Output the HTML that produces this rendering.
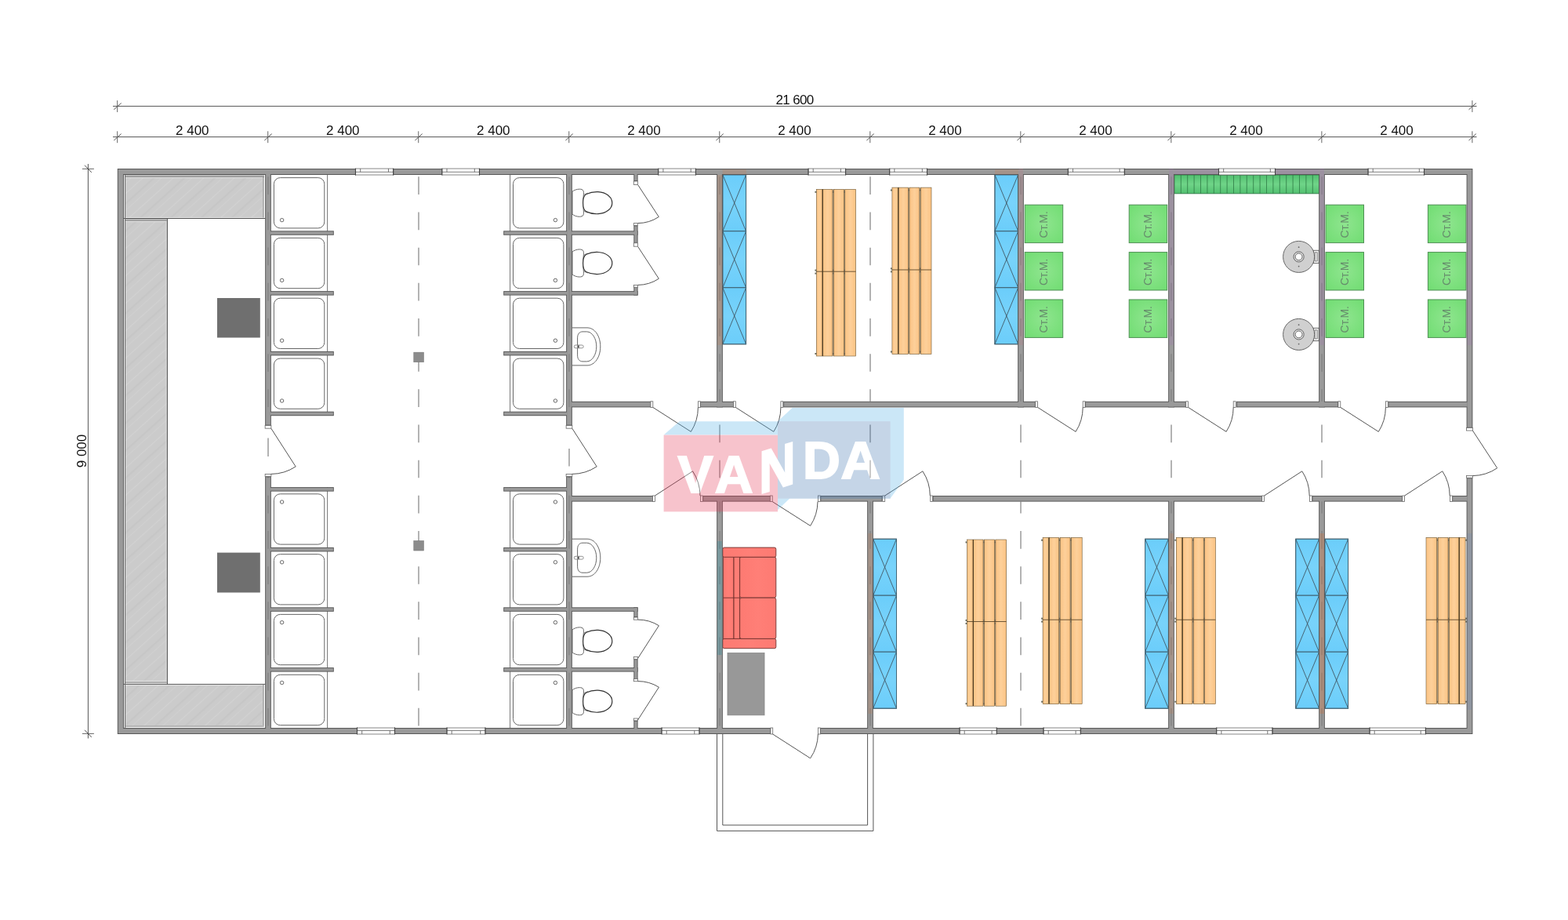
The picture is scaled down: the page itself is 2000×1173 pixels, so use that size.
<!DOCTYPE html>
<html lang="ru">
<head>
<meta charset="utf-8">
<title>План 21 600 x 9 000</title>
<style>
html,body{margin:0;padding:0;background:#fff;}
body{width:2000px;height:1173px;overflow:hidden;}
svg{display:block;}
text{font-family:"Liberation Sans",sans-serif;}
svg{will-change:transform;}
.dim{font-size:17px;fill:#111;}
.wm{font-size:14px;fill:#668c6c;}
.logo text{font-family:"Liberation Sans",sans-serif;font-weight:700;font-size:67.5px;}
</style>
</head>
<body>
<svg width="2000" height="1173" viewBox="0 0 2000 1173">
<defs>
<pattern id="hp" width="26" height="26" patternUnits="userSpaceOnUse" patternTransform="rotate(-42)">
<rect width="26" height="26" fill="#cbcbcb"/>
<rect y="4" width="26" height="1.2" fill="#d2d2d2"/>
<rect y="13" width="26" height="2.2" fill="#c6c6c6"/>
<rect y="20" width="26" height="1" fill="#d0d0d0"/>
</pattern>
<linearGradient id="go" x1="0" x2="1" y1="0" y2="0"><stop offset="0" stop-color="#fbc384"/><stop offset="0.5" stop-color="#fdd09a"/><stop offset="1" stop-color="#fbc384"/></linearGradient>
<linearGradient id="gb" x1="0" x2="0" y1="0" y2="1"><stop offset="0" stop-color="#6bcdfa"/><stop offset="0.5" stop-color="#78d3fb"/><stop offset="1" stop-color="#6bcdfa"/></linearGradient>
<radialGradient id="gg" cx="0.5" cy="0.5" r="0.75"><stop offset="0" stop-color="#8fe58f"/><stop offset="1" stop-color="#6edc70"/></radialGradient>
<linearGradient id="gr" x1="0" x2="1" y1="0" y2="0"><stop offset="0" stop-color="#fd7a72"/><stop offset="0.5" stop-color="#ff7f77"/><stop offset="1" stop-color="#fd7a72"/></linearGradient>
<linearGradient id="gd" x1="0" x2="0" y1="0" y2="1"><stop offset="0" stop-color="#52c070"/><stop offset="0.5" stop-color="#6fd488"/><stop offset="1" stop-color="#52c070"/></linearGradient>
</defs>
<rect width="2000" height="1173" fill="#fff"/>
<g id="dims">
<line x1="144.00" y1="135.40" x2="1883.50" y2="135.40" stroke="#555" stroke-width="1" />
<line x1="144.00" y1="174.60" x2="1883.50" y2="174.60" stroke="#555" stroke-width="1" />
<line x1="149.70" y1="128.10" x2="149.70" y2="143.00" stroke="#666" stroke-width="1" />
<line x1="145.30" y1="139.80" x2="154.60" y2="131.40" stroke="#555" stroke-width="1" />
<line x1="1877.90" y1="128.10" x2="1877.90" y2="143.00" stroke="#666" stroke-width="1" />
<line x1="1873.50" y1="139.80" x2="1882.80" y2="131.40" stroke="#555" stroke-width="1" />
<line x1="149.70" y1="167.30" x2="149.70" y2="182.20" stroke="#666" stroke-width="1" />
<line x1="145.30" y1="179.00" x2="154.60" y2="170.60" stroke="#555" stroke-width="1" />
<line x1="341.72" y1="167.30" x2="341.72" y2="182.20" stroke="#666" stroke-width="1" />
<line x1="337.32" y1="179.00" x2="346.62" y2="170.60" stroke="#555" stroke-width="1" />
<line x1="533.74" y1="167.30" x2="533.74" y2="182.20" stroke="#666" stroke-width="1" />
<line x1="529.34" y1="179.00" x2="538.64" y2="170.60" stroke="#555" stroke-width="1" />
<line x1="725.76" y1="167.30" x2="725.76" y2="182.20" stroke="#666" stroke-width="1" />
<line x1="721.36" y1="179.00" x2="730.66" y2="170.60" stroke="#555" stroke-width="1" />
<line x1="917.78" y1="167.30" x2="917.78" y2="182.20" stroke="#666" stroke-width="1" />
<line x1="913.38" y1="179.00" x2="922.68" y2="170.60" stroke="#555" stroke-width="1" />
<line x1="1109.80" y1="167.30" x2="1109.80" y2="182.20" stroke="#666" stroke-width="1" />
<line x1="1105.40" y1="179.00" x2="1114.70" y2="170.60" stroke="#555" stroke-width="1" />
<line x1="1301.82" y1="167.30" x2="1301.82" y2="182.20" stroke="#666" stroke-width="1" />
<line x1="1297.42" y1="179.00" x2="1306.72" y2="170.60" stroke="#555" stroke-width="1" />
<line x1="1493.84" y1="167.30" x2="1493.84" y2="182.20" stroke="#666" stroke-width="1" />
<line x1="1489.44" y1="179.00" x2="1498.74" y2="170.60" stroke="#555" stroke-width="1" />
<line x1="1685.86" y1="167.30" x2="1685.86" y2="182.20" stroke="#666" stroke-width="1" />
<line x1="1681.46" y1="179.00" x2="1690.76" y2="170.60" stroke="#555" stroke-width="1" />
<line x1="1877.88" y1="167.30" x2="1877.88" y2="182.20" stroke="#666" stroke-width="1" />
<line x1="1873.48" y1="179.00" x2="1882.78" y2="170.60" stroke="#555" stroke-width="1" />
<text class="dim" x="1013.5" y="132.9" text-anchor="middle" word-spacing="0" letter-spacing="-0.7">21 600</text>
<text class="dim" x="245.3" y="172.2" text-anchor="middle">2 400</text>
<text class="dim" x="437.3" y="172.2" text-anchor="middle">2 400</text>
<text class="dim" x="629.3" y="172.2" text-anchor="middle">2 400</text>
<text class="dim" x="821.4" y="172.2" text-anchor="middle">2 400</text>
<text class="dim" x="1013.4" y="172.2" text-anchor="middle">2 400</text>
<text class="dim" x="1205.4" y="172.2" text-anchor="middle">2 400</text>
<text class="dim" x="1397.4" y="172.2" text-anchor="middle">2 400</text>
<text class="dim" x="1589.4" y="172.2" text-anchor="middle">2 400</text>
<text class="dim" x="1781.5" y="172.2" text-anchor="middle">2 400</text>
<line x1="112.40" y1="209.00" x2="112.40" y2="941.50" stroke="#555" stroke-width="1" />
<line x1="104.90" y1="215.30" x2="119.90" y2="215.30" stroke="#666" stroke-width="1" />
<line x1="108.00" y1="210.70" x2="116.80" y2="219.90" stroke="#555" stroke-width="1" />
<line x1="104.90" y1="935.40" x2="119.90" y2="935.40" stroke="#666" stroke-width="1" />
<line x1="108.00" y1="930.80" x2="116.80" y2="940.00" stroke="#555" stroke-width="1" />
<text class="dim" transform="translate(110.1 575) rotate(-90)" text-anchor="middle">9 000</text>
</g>
<g id="axes">
<line x1="534.00" y1="225.30" x2="534.00" y2="248.00" stroke="#8a8a8a" stroke-width="1.3" />
<line x1="534.00" y1="270.47" x2="534.00" y2="293.17" stroke="#8a8a8a" stroke-width="1.3" />
<line x1="534.00" y1="315.64" x2="534.00" y2="338.34" stroke="#8a8a8a" stroke-width="1.3" />
<line x1="534.00" y1="360.81" x2="534.00" y2="383.51" stroke="#8a8a8a" stroke-width="1.3" />
<line x1="534.00" y1="405.98" x2="534.00" y2="428.68" stroke="#8a8a8a" stroke-width="1.3" />
<line x1="534.00" y1="451.15" x2="534.00" y2="473.85" stroke="#8a8a8a" stroke-width="1.3" />
<line x1="534.00" y1="496.32" x2="534.00" y2="519.02" stroke="#8a8a8a" stroke-width="1.3" />
<line x1="534.00" y1="541.49" x2="534.00" y2="564.19" stroke="#8a8a8a" stroke-width="1.3" />
<line x1="534.00" y1="586.66" x2="534.00" y2="609.36" stroke="#8a8a8a" stroke-width="1.3" />
<line x1="534.00" y1="631.83" x2="534.00" y2="654.53" stroke="#8a8a8a" stroke-width="1.3" />
<line x1="534.00" y1="677.00" x2="534.00" y2="699.70" stroke="#8a8a8a" stroke-width="1.3" />
<line x1="534.00" y1="722.17" x2="534.00" y2="744.87" stroke="#8a8a8a" stroke-width="1.3" />
<line x1="534.00" y1="767.34" x2="534.00" y2="790.04" stroke="#8a8a8a" stroke-width="1.3" />
<line x1="534.00" y1="812.51" x2="534.00" y2="835.21" stroke="#8a8a8a" stroke-width="1.3" />
<line x1="534.00" y1="857.68" x2="534.00" y2="880.38" stroke="#8a8a8a" stroke-width="1.3" />
<line x1="534.00" y1="902.85" x2="534.00" y2="925.55" stroke="#8a8a8a" stroke-width="1.3" />
<line x1="1110.00" y1="225.30" x2="1110.00" y2="248.00" stroke="#8a8a8a" stroke-width="1.3" />
<line x1="1110.00" y1="270.47" x2="1110.00" y2="293.17" stroke="#8a8a8a" stroke-width="1.3" />
<line x1="1110.00" y1="315.64" x2="1110.00" y2="338.34" stroke="#8a8a8a" stroke-width="1.3" />
<line x1="1110.00" y1="360.81" x2="1110.00" y2="383.51" stroke="#8a8a8a" stroke-width="1.3" />
<line x1="1110.00" y1="405.98" x2="1110.00" y2="428.68" stroke="#8a8a8a" stroke-width="1.3" />
<line x1="1110.00" y1="451.15" x2="1110.00" y2="473.85" stroke="#8a8a8a" stroke-width="1.3" />
<line x1="1110.00" y1="496.32" x2="1110.00" y2="511.80" stroke="#8a8a8a" stroke-width="1.3" />
<line x1="1110.00" y1="541.49" x2="1110.00" y2="564.19" stroke="#8a8a8a" stroke-width="1.3" />
<line x1="1110.00" y1="586.66" x2="1110.00" y2="609.36" stroke="#8a8a8a" stroke-width="1.3" />
<line x1="1302.00" y1="541.49" x2="1302.00" y2="564.19" stroke="#8a8a8a" stroke-width="1.3" />
<line x1="1302.00" y1="586.66" x2="1302.00" y2="609.36" stroke="#8a8a8a" stroke-width="1.3" />
<line x1="1302.00" y1="639.60" x2="1302.00" y2="654.53" stroke="#8a8a8a" stroke-width="1.3" />
<line x1="1302.00" y1="677.00" x2="1302.00" y2="699.70" stroke="#8a8a8a" stroke-width="1.3" />
<line x1="1302.00" y1="722.17" x2="1302.00" y2="744.87" stroke="#8a8a8a" stroke-width="1.3" />
<line x1="1302.00" y1="767.34" x2="1302.00" y2="790.04" stroke="#8a8a8a" stroke-width="1.3" />
<line x1="1302.00" y1="812.51" x2="1302.00" y2="835.21" stroke="#8a8a8a" stroke-width="1.3" />
<line x1="1302.00" y1="857.68" x2="1302.00" y2="880.38" stroke="#8a8a8a" stroke-width="1.3" />
<line x1="1302.00" y1="902.85" x2="1302.00" y2="925.55" stroke="#8a8a8a" stroke-width="1.3" />
<line x1="918.00" y1="541.49" x2="918.00" y2="564.19" stroke="#8a8a8a" stroke-width="1.3" />
<line x1="918.00" y1="586.66" x2="918.00" y2="609.36" stroke="#8a8a8a" stroke-width="1.3" />
<line x1="1494.00" y1="541.49" x2="1494.00" y2="564.19" stroke="#8a8a8a" stroke-width="1.3" />
<line x1="1494.00" y1="586.66" x2="1494.00" y2="609.36" stroke="#8a8a8a" stroke-width="1.3" />
<line x1="1686.00" y1="541.49" x2="1686.00" y2="564.19" stroke="#8a8a8a" stroke-width="1.3" />
<line x1="1686.00" y1="586.66" x2="1686.00" y2="609.36" stroke="#8a8a8a" stroke-width="1.3" />
<line x1="342.00" y1="558.60" x2="342.00" y2="582.10" stroke="#8a8a8a" stroke-width="1.3" />
<line x1="726.00" y1="571.90" x2="726.00" y2="594.40" stroke="#8a8a8a" stroke-width="1.3" />
</g>
<g id="hatch">
<rect x="160.00" y="226.00" width="175.00" height="51.60" fill="url(#hp)" />
<rect x="160.00" y="282.00" width="52.80" height="586.60" fill="url(#hp)" />
<rect x="160.00" y="873.00" width="175.00" height="52.40" fill="url(#hp)" />
<rect x="160.00" y="223.00" width="177.00" height="1.90" fill="#b8b8b8" />
<rect x="335.00" y="224.90" width="1.80" height="52.70" fill="#ababab" />
<rect x="160.00" y="279.00" width="52.80" height="1.80" fill="#b5b5b5" />
<rect x="160.00" y="869.00" width="52.80" height="1.90" fill="#a8a8a8" />
<rect x="160.00" y="925.20" width="176.80" height="1.60" fill="#a5a5a5" />
<rect x="335.00" y="873.00" width="1.80" height="52.20" fill="#ababab" />
<line x1="160.00" y1="226.50" x2="335.00" y2="226.50" stroke="#e2e2e2" stroke-width="1" />
<line x1="160.00" y1="277.40" x2="335.00" y2="277.40" stroke="#e2e2e2" stroke-width="1" />
<line x1="160.00" y1="282.50" x2="212.80" y2="282.50" stroke="#e2e2e2" stroke-width="1" />
<line x1="160.00" y1="868.40" x2="212.80" y2="868.40" stroke="#e2e2e2" stroke-width="1" />
<line x1="160.00" y1="871.40" x2="212.80" y2="871.40" stroke="#e2e2e2" stroke-width="1" />
<line x1="160.00" y1="873.50" x2="335.00" y2="873.50" stroke="#e2e2e2" stroke-width="1" />
<line x1="211.40" y1="283.00" x2="211.40" y2="868.00" stroke="#d8d8d8" stroke-width="0.8" />
<line x1="160.00" y1="225.40" x2="337.00" y2="225.40" stroke="#7a7a7a" stroke-width="1.0" />
<line x1="158.00" y1="278.50" x2="338.40" y2="278.50" stroke="#555" stroke-width="1.0" />
<line x1="160.00" y1="281.30" x2="212.80" y2="281.30" stroke="#6c6c6c" stroke-width="0.9" />
<line x1="158.00" y1="872.40" x2="338.40" y2="872.40" stroke="#585858" stroke-width="1.0" />
<line x1="159.50" y1="223.00" x2="159.50" y2="928.00" stroke="#6a6a6a" stroke-width="1.0" />
<line x1="213.40" y1="278.50" x2="213.40" y2="872.40" stroke="#555" stroke-width="1.1" />
</g>
<rect x="277.00" y="380.00" width="54.80" height="50.50" fill="#6f6f6f" />
<rect x="277.00" y="704.60" width="54.80" height="50.90" fill="#6f6f6f" />
<rect x="527.80" y="449.20" width="12.60" height="12.50" fill="#8c8c8c" stroke="#777" stroke-width="0.6" />
<rect x="527.80" y="689.50" width="12.60" height="12.50" fill="#8c8c8c" stroke="#777" stroke-width="0.6" />
<g id="showers" fill="#fff" stroke="#666" stroke-width="1">
<line x1="417.60" y1="223.00" x2="417.60" y2="530.00" stroke="#666" stroke-width="0.9" />
<line x1="417.60" y1="621.20" x2="417.60" y2="928.00" stroke="#666" stroke-width="0.9" />
<line x1="650.60" y1="223.00" x2="650.60" y2="530.00" stroke="#666" stroke-width="0.9" />
<line x1="650.60" y1="621.20" x2="650.60" y2="928.00" stroke="#666" stroke-width="0.9" />
<rect x="349.4" y="226.6" width="64.4" height="64.3" rx="8" ry="8"/>
<circle cx="359.6" cy="280.6" r="2.2"/>
<rect x="654.5" y="226.6" width="64.4" height="64.3" rx="8" ry="8"/>
<circle cx="708.4" cy="280.6" r="2.2"/>
<rect x="349.4" y="303.4" width="64.4" height="64.3" rx="8" ry="8"/>
<circle cx="359.6" cy="357.4" r="2.2"/>
<rect x="654.5" y="303.4" width="64.4" height="64.3" rx="8" ry="8"/>
<circle cx="708.4" cy="357.4" r="2.2"/>
<rect x="349.4" y="380.2" width="64.4" height="64.3" rx="8" ry="8"/>
<circle cx="359.6" cy="434.2" r="2.2"/>
<rect x="654.5" y="380.2" width="64.4" height="64.3" rx="8" ry="8"/>
<circle cx="708.4" cy="434.2" r="2.2"/>
<rect x="349.4" y="457.0" width="64.4" height="64.3" rx="8" ry="8"/>
<circle cx="359.6" cy="511.0" r="2.2"/>
<rect x="654.5" y="457.0" width="64.4" height="64.3" rx="8" ry="8"/>
<circle cx="708.4" cy="511.0" r="2.2"/>
<rect x="349.4" y="629.8" width="64.4" height="64.3" rx="8" ry="8"/>
<circle cx="359.6" cy="640.0" r="2.2"/>
<rect x="654.5" y="629.8" width="64.4" height="64.3" rx="8" ry="8"/>
<circle cx="708.4" cy="640.0" r="2.2"/>
<rect x="349.4" y="706.6" width="64.4" height="64.3" rx="8" ry="8"/>
<circle cx="359.6" cy="716.8" r="2.2"/>
<rect x="654.5" y="706.6" width="64.4" height="64.3" rx="8" ry="8"/>
<circle cx="708.4" cy="716.8" r="2.2"/>
<rect x="349.4" y="783.4" width="64.4" height="64.3" rx="8" ry="8"/>
<circle cx="359.6" cy="793.6" r="2.2"/>
<rect x="654.5" y="783.4" width="64.4" height="64.3" rx="8" ry="8"/>
<circle cx="708.4" cy="793.6" r="2.2"/>
<rect x="349.4" y="860.3" width="64.4" height="64.3" rx="8" ry="8"/>
<circle cx="359.6" cy="870.5" r="2.2"/>
<rect x="654.5" y="860.3" width="64.4" height="64.3" rx="8" ry="8"/>
<circle cx="708.4" cy="870.5" r="2.2"/>
</g>
<g transform="translate(730 258.7)" fill="#fff">
<path d="M0 -14.5 C4 -17.5 9 -18 12 -17.2 C14.4 -16.4 14.6 -14 14.4 -11 C13.6 -4 13.6 4 14.4 11 C14.6 14 14.4 16.4 12 17.2 C9 18 4 17.5 0 14.5 Z" stroke="#666" stroke-width="1"/>
<path d="M14.5 -10.5 L20 -12.6 M14.5 10.5 L20 12.6 M14.8 -8.6 L19 -10.4 M14.8 8.6 L19 10.4" stroke="#777" stroke-width="0.8" fill="none"/>
<path d="M13.6 0 C13.6 -6 14.5 -9.5 18 -11.2 C23 -13.6 29 -14.2 33 -14 C43 -13.4 50.8 -7.6 50.8 0 C50.8 7.6 43 13.4 33 14 C29 14.2 23 13.6 18 11.2 C14.5 9.5 13.6 6 13.6 0 Z" stroke="#333" stroke-width="1.2"/>
</g>
<g transform="translate(730 335.5)" fill="#fff">
<path d="M0 -14.5 C4 -17.5 9 -18 12 -17.2 C14.4 -16.4 14.6 -14 14.4 -11 C13.6 -4 13.6 4 14.4 11 C14.6 14 14.4 16.4 12 17.2 C9 18 4 17.5 0 14.5 Z" stroke="#666" stroke-width="1"/>
<path d="M14.5 -10.5 L20 -12.6 M14.5 10.5 L20 12.6 M14.8 -8.6 L19 -10.4 M14.8 8.6 L19 10.4" stroke="#777" stroke-width="0.8" fill="none"/>
<path d="M13.6 0 C13.6 -6 14.5 -9.5 18 -11.2 C23 -13.6 29 -14.2 33 -14 C43 -13.4 50.8 -7.6 50.8 0 C50.8 7.6 43 13.4 33 14 C29 14.2 23 13.6 18 11.2 C14.5 9.5 13.6 6 13.6 0 Z" stroke="#333" stroke-width="1.2"/>
</g>
<g transform="translate(730 817.4)" fill="#fff">
<path d="M0 -14.5 C4 -17.5 9 -18 12 -17.2 C14.4 -16.4 14.6 -14 14.4 -11 C13.6 -4 13.6 4 14.4 11 C14.6 14 14.4 16.4 12 17.2 C9 18 4 17.5 0 14.5 Z" stroke="#666" stroke-width="1"/>
<path d="M14.5 -10.5 L20 -12.6 M14.5 10.5 L20 12.6 M14.8 -8.6 L19 -10.4 M14.8 8.6 L19 10.4" stroke="#777" stroke-width="0.8" fill="none"/>
<path d="M13.6 0 C13.6 -6 14.5 -9.5 18 -11.2 C23 -13.6 29 -14.2 33 -14 C43 -13.4 50.8 -7.6 50.8 0 C50.8 7.6 43 13.4 33 14 C29 14.2 23 13.6 18 11.2 C14.5 9.5 13.6 6 13.6 0 Z" stroke="#333" stroke-width="1.2"/>
</g>
<g transform="translate(730 894.2)" fill="#fff">
<path d="M0 -14.5 C4 -17.5 9 -18 12 -17.2 C14.4 -16.4 14.6 -14 14.4 -11 C13.6 -4 13.6 4 14.4 11 C14.6 14 14.4 16.4 12 17.2 C9 18 4 17.5 0 14.5 Z" stroke="#666" stroke-width="1"/>
<path d="M14.5 -10.5 L20 -12.6 M14.5 10.5 L20 12.6 M14.8 -8.6 L19 -10.4 M14.8 8.6 L19 10.4" stroke="#777" stroke-width="0.8" fill="none"/>
<path d="M13.6 0 C13.6 -6 14.5 -9.5 18 -11.2 C23 -13.6 29 -14.2 33 -14 C43 -13.4 50.8 -7.6 50.8 0 C50.8 7.6 43 13.4 33 14 C29 14.2 23 13.6 18 11.2 C14.5 9.5 13.6 6 13.6 0 Z" stroke="#333" stroke-width="1.2"/>
</g>
<g transform="translate(730 441.9)" fill="#fff" stroke="#666" stroke-width="1">
<path d="M0 -24 H19 C29 -24 35.8 -13 35.8 0 C35.8 13 29 24 19 24 H0"/>
<path d="M13 -19 H18.5 C25.5 -19 30.8 -10 30.8 0 C30.8 10 25.5 19 18.5 19 H13 C9 19 6.6 16 6.6 11 V-11 C6.6 -16 9 -19 13 -19 Z"/>
<rect x="2.2" y="-1.9" width="12" height="3.8" rx="1.9" stroke="#777" stroke-width="0.8"/>
<rect x="6.4" y="-1.6" width="2.4" height="3.2" fill="#555" stroke="none"/>
</g>
<g transform="translate(730 711.2)" fill="#fff" stroke="#666" stroke-width="1">
<path d="M0 -24 H19 C29 -24 35.8 -13 35.8 0 C35.8 13 29 24 19 24 H0"/>
<path d="M13 -19 H18.5 C25.5 -19 30.8 -10 30.8 0 C30.8 10 25.5 19 18.5 19 H13 C9 19 6.6 16 6.6 11 V-11 C6.6 -16 9 -19 13 -19 Z"/>
<rect x="2.2" y="-1.9" width="12" height="3.8" rx="1.9" stroke="#777" stroke-width="0.8"/>
<rect x="6.4" y="-1.6" width="2.4" height="3.2" fill="#555" stroke="none"/>
</g>
<g transform="translate(921.8 222.8)" stroke="#3a5766" stroke-width="0.9" fill="url(#gb)">
<rect x="0" y="0.0" width="29.8" height="72.0"/>
<path d="M0 0.0 L29.8 72.0 M29.8 0.0 L0 72.0" fill="none" stroke="#3b4a54" stroke-width="0.8"/>
<rect x="0" y="72.0" width="29.8" height="72.0"/>
<path d="M0 72.0 L29.8 144.0 M29.8 72.0 L0 144.0" fill="none" stroke="#3b4a54" stroke-width="0.8"/>
<rect x="0" y="144.0" width="29.8" height="72.0"/>
<path d="M0 144.0 L29.8 216.0 M29.8 144.0 L0 216.0" fill="none" stroke="#3b4a54" stroke-width="0.8"/>
<rect x="0" y="0" width="29.8" height="216.0" fill="none" stroke="#456878" stroke-width="0.9"/>
</g>
<g transform="translate(1268.9 222.8)" stroke="#3a5766" stroke-width="0.9" fill="url(#gb)">
<rect x="0" y="0.0" width="29.8" height="72.0"/>
<path d="M0 0.0 L29.8 72.0 M29.8 0.0 L0 72.0" fill="none" stroke="#3b4a54" stroke-width="0.8"/>
<rect x="0" y="72.0" width="29.8" height="72.0"/>
<path d="M0 72.0 L29.8 144.0 M29.8 72.0 L0 144.0" fill="none" stroke="#3b4a54" stroke-width="0.8"/>
<rect x="0" y="144.0" width="29.8" height="72.0"/>
<path d="M0 144.0 L29.8 216.0 M29.8 144.0 L0 216.0" fill="none" stroke="#3b4a54" stroke-width="0.8"/>
<rect x="0" y="0" width="29.8" height="216.0" fill="none" stroke="#456878" stroke-width="0.9"/>
</g>
<g transform="translate(1113.7 687.2)" stroke="#3a5766" stroke-width="0.9" fill="url(#gb)">
<rect x="0" y="0.0" width="29.8" height="72.0"/>
<path d="M0 0.0 L29.8 72.0 M29.8 0.0 L0 72.0" fill="none" stroke="#3b4a54" stroke-width="0.8"/>
<rect x="0" y="72.0" width="29.8" height="72.0"/>
<path d="M0 72.0 L29.8 144.0 M29.8 72.0 L0 144.0" fill="none" stroke="#3b4a54" stroke-width="0.8"/>
<rect x="0" y="144.0" width="29.8" height="72.0"/>
<path d="M0 144.0 L29.8 216.0 M29.8 144.0 L0 216.0" fill="none" stroke="#3b4a54" stroke-width="0.8"/>
<rect x="0" y="0" width="29.8" height="216.0" fill="none" stroke="#456878" stroke-width="0.9"/>
</g>
<g transform="translate(1460.6 687.2)" stroke="#3a5766" stroke-width="0.9" fill="url(#gb)">
<rect x="0" y="0.0" width="29.8" height="72.0"/>
<path d="M0 0.0 L29.8 72.0 M29.8 0.0 L0 72.0" fill="none" stroke="#3b4a54" stroke-width="0.8"/>
<rect x="0" y="72.0" width="29.8" height="72.0"/>
<path d="M0 72.0 L29.8 144.0 M29.8 72.0 L0 144.0" fill="none" stroke="#3b4a54" stroke-width="0.8"/>
<rect x="0" y="144.0" width="29.8" height="72.0"/>
<path d="M0 144.0 L29.8 216.0 M29.8 144.0 L0 216.0" fill="none" stroke="#3b4a54" stroke-width="0.8"/>
<rect x="0" y="0" width="29.8" height="216.0" fill="none" stroke="#456878" stroke-width="0.9"/>
</g>
<g transform="translate(1652.7 687.2)" stroke="#3a5766" stroke-width="0.9" fill="url(#gb)">
<rect x="0" y="0.0" width="29.8" height="72.0"/>
<path d="M0 0.0 L29.8 72.0 M29.8 0.0 L0 72.0" fill="none" stroke="#3b4a54" stroke-width="0.8"/>
<rect x="0" y="72.0" width="29.8" height="72.0"/>
<path d="M0 72.0 L29.8 144.0 M29.8 72.0 L0 144.0" fill="none" stroke="#3b4a54" stroke-width="0.8"/>
<rect x="0" y="144.0" width="29.8" height="72.0"/>
<path d="M0 144.0 L29.8 216.0 M29.8 144.0 L0 216.0" fill="none" stroke="#3b4a54" stroke-width="0.8"/>
<rect x="0" y="0" width="29.8" height="216.0" fill="none" stroke="#456878" stroke-width="0.9"/>
</g>
<g transform="translate(1689.8 687.2)" stroke="#3a5766" stroke-width="0.9" fill="url(#gb)">
<rect x="0" y="0.0" width="29.8" height="72.0"/>
<path d="M0 0.0 L29.8 72.0 M29.8 0.0 L0 72.0" fill="none" stroke="#3b4a54" stroke-width="0.8"/>
<rect x="0" y="72.0" width="29.8" height="72.0"/>
<path d="M0 72.0 L29.8 144.0 M29.8 72.0 L0 144.0" fill="none" stroke="#3b4a54" stroke-width="0.8"/>
<rect x="0" y="144.0" width="29.8" height="72.0"/>
<path d="M0 144.0 L29.8 216.0 M29.8 144.0 L0 216.0" fill="none" stroke="#3b4a54" stroke-width="0.8"/>
<rect x="0" y="0" width="29.8" height="216.0" fill="none" stroke="#456878" stroke-width="0.9"/>
</g>
<g transform="translate(1041.4 241.4)">
<rect x="0.3" y="0.3" width="49.5" height="212.0" fill="#ab9c84"/>
<rect x="0" y="0" width="7.5" height="212.6" fill="url(#go)" stroke="#6f5a38" stroke-width="0.6"/>
<rect x="8.2" y="0" width="12.3" height="212.6" fill="url(#go)" stroke="#6f5a38" stroke-width="0.6"/>
<rect x="22.1" y="0" width="12.8" height="212.6" fill="url(#go)" stroke="#6f5a38" stroke-width="0.6"/>
<rect x="36.4" y="0" width="13.7" height="212.6" fill="url(#go)" stroke="#6f5a38" stroke-width="0.6"/>
<line x1="7.9" y1="0" x2="7.9" y2="212.6" stroke="#3e3018" stroke-width="0.9"/>
<line x1="-0.5" y1="104.8" x2="50.1" y2="104.8" stroke="#4a3a20" stroke-width="0.8"/>
<rect x="-2.0" y="2.4" width="2.0" height="2.0" fill="#6a6a5a"/>
<rect x="20.8" y="2.5" width="1.2" height="1.8" fill="#6a6050"/>
<rect x="35.1" y="2.5" width="1.2" height="1.8" fill="#6a6050"/>
<rect x="-2.0" y="102.2" width="2.0" height="2.0" fill="#6a6a5a"/>
<rect x="20.8" y="102.3" width="1.2" height="1.8" fill="#6a6050"/>
<rect x="35.1" y="102.3" width="1.2" height="1.8" fill="#6a6050"/>
<rect x="-2.0" y="106.2" width="2.0" height="2.0" fill="#6a6a5a"/>
<rect x="20.8" y="106.3" width="1.2" height="1.8" fill="#6a6050"/>
<rect x="35.1" y="106.3" width="1.2" height="1.8" fill="#6a6050"/>
<rect x="-2.0" y="208.6" width="2.0" height="2.0" fill="#6a6a5a"/>
<rect x="20.8" y="208.7" width="1.2" height="1.8" fill="#6a6050"/>
<rect x="35.1" y="208.7" width="1.2" height="1.8" fill="#6a6050"/>
</g>
<g transform="translate(1137.9 239.1)">
<rect x="0.3" y="0.3" width="49.5" height="211.8" fill="#ab9c84"/>
<rect x="0" y="0" width="7.5" height="212.4" fill="url(#go)" stroke="#6f5a38" stroke-width="0.6"/>
<rect x="8.2" y="0" width="12.3" height="212.4" fill="url(#go)" stroke="#6f5a38" stroke-width="0.6"/>
<rect x="22.1" y="0" width="12.8" height="212.4" fill="url(#go)" stroke="#6f5a38" stroke-width="0.6"/>
<rect x="36.4" y="0" width="13.7" height="212.4" fill="url(#go)" stroke="#6f5a38" stroke-width="0.6"/>
<line x1="7.9" y1="0" x2="7.9" y2="212.4" stroke="#3e3018" stroke-width="0.9"/>
<line x1="-0.5" y1="104.9" x2="50.1" y2="104.9" stroke="#4a3a20" stroke-width="0.8"/>
<rect x="-2.0" y="2.4" width="2.0" height="2.0" fill="#6a6a5a"/>
<rect x="20.8" y="2.5" width="1.2" height="1.8" fill="#6a6050"/>
<rect x="35.1" y="2.5" width="1.2" height="1.8" fill="#6a6050"/>
<rect x="-2.0" y="102.3" width="2.0" height="2.0" fill="#6a6a5a"/>
<rect x="20.8" y="102.4" width="1.2" height="1.8" fill="#6a6050"/>
<rect x="35.1" y="102.4" width="1.2" height="1.8" fill="#6a6050"/>
<rect x="-2.0" y="106.3" width="2.0" height="2.0" fill="#6a6a5a"/>
<rect x="20.8" y="106.4" width="1.2" height="1.8" fill="#6a6050"/>
<rect x="35.1" y="106.4" width="1.2" height="1.8" fill="#6a6050"/>
<rect x="-2.0" y="208.4" width="2.0" height="2.0" fill="#6a6a5a"/>
<rect x="20.8" y="208.5" width="1.2" height="1.8" fill="#6a6050"/>
<rect x="35.1" y="208.5" width="1.2" height="1.8" fill="#6a6050"/>
</g>
<g transform="translate(1233.5 688.0)">
<rect x="0.3" y="0.3" width="49.5" height="211.6" fill="#ab9c84"/>
<rect x="0" y="0" width="7.5" height="212.2" fill="url(#go)" stroke="#6f5a38" stroke-width="0.6"/>
<rect x="8.2" y="0" width="12.3" height="212.2" fill="url(#go)" stroke="#6f5a38" stroke-width="0.6"/>
<rect x="22.1" y="0" width="12.8" height="212.2" fill="url(#go)" stroke="#6f5a38" stroke-width="0.6"/>
<rect x="36.4" y="0" width="13.7" height="212.2" fill="url(#go)" stroke="#6f5a38" stroke-width="0.6"/>
<line x1="7.9" y1="0" x2="7.9" y2="212.2" stroke="#3e3018" stroke-width="0.9"/>
<line x1="-0.5" y1="104.5" x2="50.1" y2="104.5" stroke="#4a3a20" stroke-width="0.8"/>
<rect x="-2.0" y="2.4" width="2.0" height="2.0" fill="#6a6a5a"/>
<rect x="20.8" y="2.5" width="1.2" height="1.8" fill="#6a6050"/>
<rect x="35.1" y="2.5" width="1.2" height="1.8" fill="#6a6050"/>
<rect x="-2.0" y="101.9" width="2.0" height="2.0" fill="#6a6a5a"/>
<rect x="20.8" y="102.0" width="1.2" height="1.8" fill="#6a6050"/>
<rect x="35.1" y="102.0" width="1.2" height="1.8" fill="#6a6050"/>
<rect x="-2.0" y="105.9" width="2.0" height="2.0" fill="#6a6a5a"/>
<rect x="20.8" y="106.0" width="1.2" height="1.8" fill="#6a6050"/>
<rect x="35.1" y="106.0" width="1.2" height="1.8" fill="#6a6050"/>
<rect x="-2.0" y="208.2" width="2.0" height="2.0" fill="#6a6a5a"/>
<rect x="20.8" y="208.3" width="1.2" height="1.8" fill="#6a6050"/>
<rect x="35.1" y="208.3" width="1.2" height="1.8" fill="#6a6050"/>
</g>
<g transform="translate(1330.1 685.3)">
<rect x="0.3" y="0.3" width="49.5" height="211.8" fill="#ab9c84"/>
<rect x="0" y="0" width="7.5" height="212.4" fill="url(#go)" stroke="#6f5a38" stroke-width="0.6"/>
<rect x="8.2" y="0" width="12.3" height="212.4" fill="url(#go)" stroke="#6f5a38" stroke-width="0.6"/>
<rect x="22.1" y="0" width="12.8" height="212.4" fill="url(#go)" stroke="#6f5a38" stroke-width="0.6"/>
<rect x="36.4" y="0" width="13.7" height="212.4" fill="url(#go)" stroke="#6f5a38" stroke-width="0.6"/>
<line x1="7.9" y1="0" x2="7.9" y2="212.4" stroke="#3e3018" stroke-width="0.9"/>
<line x1="-0.5" y1="104.9" x2="50.1" y2="104.9" stroke="#4a3a20" stroke-width="0.8"/>
<rect x="-2.0" y="2.4" width="2.0" height="2.0" fill="#6a6a5a"/>
<rect x="20.8" y="2.5" width="1.2" height="1.8" fill="#6a6050"/>
<rect x="35.1" y="2.5" width="1.2" height="1.8" fill="#6a6050"/>
<rect x="-2.0" y="102.3" width="2.0" height="2.0" fill="#6a6a5a"/>
<rect x="20.8" y="102.4" width="1.2" height="1.8" fill="#6a6050"/>
<rect x="35.1" y="102.4" width="1.2" height="1.8" fill="#6a6050"/>
<rect x="-2.0" y="106.3" width="2.0" height="2.0" fill="#6a6a5a"/>
<rect x="20.8" y="106.4" width="1.2" height="1.8" fill="#6a6050"/>
<rect x="35.1" y="106.4" width="1.2" height="1.8" fill="#6a6050"/>
<rect x="-2.0" y="208.4" width="2.0" height="2.0" fill="#6a6a5a"/>
<rect x="20.8" y="208.5" width="1.2" height="1.8" fill="#6a6050"/>
<rect x="35.1" y="208.5" width="1.2" height="1.8" fill="#6a6050"/>
</g>
<g transform="translate(1500.3 685.3)">
<rect x="0.3" y="0.3" width="49.5" height="211.8" fill="#ab9c84"/>
<rect x="0" y="0" width="7.5" height="212.4" fill="url(#go)" stroke="#6f5a38" stroke-width="0.6"/>
<rect x="8.2" y="0" width="12.3" height="212.4" fill="url(#go)" stroke="#6f5a38" stroke-width="0.6"/>
<rect x="22.1" y="0" width="12.8" height="212.4" fill="url(#go)" stroke="#6f5a38" stroke-width="0.6"/>
<rect x="36.4" y="0" width="13.7" height="212.4" fill="url(#go)" stroke="#6f5a38" stroke-width="0.6"/>
<line x1="7.9" y1="0" x2="7.9" y2="212.4" stroke="#3e3018" stroke-width="0.9"/>
<line x1="-0.5" y1="104.9" x2="50.1" y2="104.9" stroke="#4a3a20" stroke-width="0.8"/>
<rect x="-2.0" y="2.4" width="2.0" height="2.0" fill="#6a6a5a"/>
<rect x="20.8" y="2.5" width="1.2" height="1.8" fill="#6a6050"/>
<rect x="35.1" y="2.5" width="1.2" height="1.8" fill="#6a6050"/>
<rect x="-2.0" y="102.3" width="2.0" height="2.0" fill="#6a6a5a"/>
<rect x="20.8" y="102.4" width="1.2" height="1.8" fill="#6a6050"/>
<rect x="35.1" y="102.4" width="1.2" height="1.8" fill="#6a6050"/>
<rect x="-2.0" y="106.3" width="2.0" height="2.0" fill="#6a6a5a"/>
<rect x="20.8" y="106.4" width="1.2" height="1.8" fill="#6a6050"/>
<rect x="35.1" y="106.4" width="1.2" height="1.8" fill="#6a6050"/>
<rect x="-2.0" y="208.4" width="2.0" height="2.0" fill="#6a6a5a"/>
<rect x="20.8" y="208.5" width="1.2" height="1.8" fill="#6a6050"/>
<rect x="35.1" y="208.5" width="1.2" height="1.8" fill="#6a6050"/>
</g>
<g transform="translate(1869.1 685.3) scale(-1 1)">
<rect x="0.3" y="0.3" width="49.5" height="211.8" fill="#ab9c84"/>
<rect x="0" y="0" width="7.5" height="212.4" fill="url(#go)" stroke="#6f5a38" stroke-width="0.6"/>
<rect x="8.2" y="0" width="12.3" height="212.4" fill="url(#go)" stroke="#6f5a38" stroke-width="0.6"/>
<rect x="22.1" y="0" width="12.8" height="212.4" fill="url(#go)" stroke="#6f5a38" stroke-width="0.6"/>
<rect x="36.4" y="0" width="13.7" height="212.4" fill="url(#go)" stroke="#6f5a38" stroke-width="0.6"/>
<line x1="7.9" y1="0" x2="7.9" y2="212.4" stroke="#3e3018" stroke-width="0.9"/>
<line x1="-0.5" y1="104.9" x2="50.1" y2="104.9" stroke="#4a3a20" stroke-width="0.8"/>
<rect x="-2.0" y="2.4" width="2.0" height="2.0" fill="#6a6a5a"/>
<rect x="20.8" y="2.5" width="1.2" height="1.8" fill="#6a6050"/>
<rect x="35.1" y="2.5" width="1.2" height="1.8" fill="#6a6050"/>
<rect x="-2.0" y="102.3" width="2.0" height="2.0" fill="#6a6a5a"/>
<rect x="20.8" y="102.4" width="1.2" height="1.8" fill="#6a6050"/>
<rect x="35.1" y="102.4" width="1.2" height="1.8" fill="#6a6050"/>
<rect x="-2.0" y="106.3" width="2.0" height="2.0" fill="#6a6a5a"/>
<rect x="20.8" y="106.4" width="1.2" height="1.8" fill="#6a6050"/>
<rect x="35.1" y="106.4" width="1.2" height="1.8" fill="#6a6050"/>
<rect x="-2.0" y="208.4" width="2.0" height="2.0" fill="#6a6a5a"/>
<rect x="20.8" y="208.5" width="1.2" height="1.8" fill="#6a6050"/>
<rect x="35.1" y="208.5" width="1.2" height="1.8" fill="#6a6050"/>
</g>
<g transform="translate(1307.2 261.2)">
<rect x="0" y="0" width="48.5" height="48.4" fill="url(#gg)" stroke="#4f8f55" stroke-width="1"/>
<text class="wm" transform="translate(28.5 25.2) rotate(-90)" text-anchor="middle">Ст.М.</text>
</g>
<g transform="translate(1307.2 321.6)">
<rect x="0" y="0" width="48.5" height="48.4" fill="url(#gg)" stroke="#4f8f55" stroke-width="1"/>
<text class="wm" transform="translate(28.5 25.2) rotate(-90)" text-anchor="middle">Ст.М.</text>
</g>
<g transform="translate(1307.2 382.0)">
<rect x="0" y="0" width="48.5" height="48.4" fill="url(#gg)" stroke="#4f8f55" stroke-width="1"/>
<text class="wm" transform="translate(28.5 25.2) rotate(-90)" text-anchor="middle">Ст.М.</text>
</g>
<g transform="translate(1440.2 261.2)">
<rect x="0" y="0" width="48.5" height="48.4" fill="url(#gg)" stroke="#4f8f55" stroke-width="1"/>
<text class="wm" transform="translate(28.5 25.2) rotate(-90)" text-anchor="middle">Ст.М.</text>
</g>
<g transform="translate(1440.2 321.6)">
<rect x="0" y="0" width="48.5" height="48.4" fill="url(#gg)" stroke="#4f8f55" stroke-width="1"/>
<text class="wm" transform="translate(28.5 25.2) rotate(-90)" text-anchor="middle">Ст.М.</text>
</g>
<g transform="translate(1440.2 382.0)">
<rect x="0" y="0" width="48.5" height="48.4" fill="url(#gg)" stroke="#4f8f55" stroke-width="1"/>
<text class="wm" transform="translate(28.5 25.2) rotate(-90)" text-anchor="middle">Ст.М.</text>
</g>
<g transform="translate(1691.0 261.2)">
<rect x="0" y="0" width="48.5" height="48.4" fill="url(#gg)" stroke="#4f8f55" stroke-width="1"/>
<text class="wm" transform="translate(28.5 25.2) rotate(-90)" text-anchor="middle">Ст.М.</text>
</g>
<g transform="translate(1691.0 321.6)">
<rect x="0" y="0" width="48.5" height="48.4" fill="url(#gg)" stroke="#4f8f55" stroke-width="1"/>
<text class="wm" transform="translate(28.5 25.2) rotate(-90)" text-anchor="middle">Ст.М.</text>
</g>
<g transform="translate(1691.0 382.0)">
<rect x="0" y="0" width="48.5" height="48.4" fill="url(#gg)" stroke="#4f8f55" stroke-width="1"/>
<text class="wm" transform="translate(28.5 25.2) rotate(-90)" text-anchor="middle">Ст.М.</text>
</g>
<g transform="translate(1821.4 261.2)">
<rect x="0" y="0" width="48.5" height="48.4" fill="url(#gg)" stroke="#4f8f55" stroke-width="1"/>
<text class="wm" transform="translate(28.5 25.2) rotate(-90)" text-anchor="middle">Ст.М.</text>
</g>
<g transform="translate(1821.4 321.6)">
<rect x="0" y="0" width="48.5" height="48.4" fill="url(#gg)" stroke="#4f8f55" stroke-width="1"/>
<text class="wm" transform="translate(28.5 25.2) rotate(-90)" text-anchor="middle">Ст.М.</text>
</g>
<g transform="translate(1821.4 382.0)">
<rect x="0" y="0" width="48.5" height="48.4" fill="url(#gg)" stroke="#4f8f55" stroke-width="1"/>
<text class="wm" transform="translate(28.5 25.2) rotate(-90)" text-anchor="middle">Ст.М.</text>
</g>
<g id="rad">
<rect x="1497.90" y="223.00" width="184.70" height="23.80" fill="url(#gd)" stroke="#2f7a45" stroke-width="0.9" />
<line x1="1506.30" y1="223.00" x2="1506.30" y2="246.80" stroke="#2f7a45" stroke-width="0.8" />
<line x1="1514.70" y1="223.00" x2="1514.70" y2="246.80" stroke="#2f7a45" stroke-width="0.8" />
<line x1="1523.10" y1="223.00" x2="1523.10" y2="246.80" stroke="#2f7a45" stroke-width="0.8" />
<line x1="1531.50" y1="223.00" x2="1531.50" y2="246.80" stroke="#2f7a45" stroke-width="0.8" />
<line x1="1539.90" y1="223.00" x2="1539.90" y2="246.80" stroke="#2f7a45" stroke-width="0.8" />
<line x1="1548.30" y1="223.00" x2="1548.30" y2="246.80" stroke="#2f7a45" stroke-width="0.8" />
<line x1="1556.70" y1="223.00" x2="1556.70" y2="246.80" stroke="#2f7a45" stroke-width="0.8" />
<line x1="1565.10" y1="223.00" x2="1565.10" y2="246.80" stroke="#2f7a45" stroke-width="0.8" />
<line x1="1573.50" y1="223.00" x2="1573.50" y2="246.80" stroke="#2f7a45" stroke-width="0.8" />
<line x1="1581.90" y1="223.00" x2="1581.90" y2="246.80" stroke="#2f7a45" stroke-width="0.8" />
<line x1="1590.30" y1="223.00" x2="1590.30" y2="246.80" stroke="#2f7a45" stroke-width="0.8" />
<line x1="1598.70" y1="223.00" x2="1598.70" y2="246.80" stroke="#2f7a45" stroke-width="0.8" />
<line x1="1607.10" y1="223.00" x2="1607.10" y2="246.80" stroke="#2f7a45" stroke-width="0.8" />
<line x1="1615.50" y1="223.00" x2="1615.50" y2="246.80" stroke="#2f7a45" stroke-width="0.8" />
<line x1="1623.90" y1="223.00" x2="1623.90" y2="246.80" stroke="#2f7a45" stroke-width="0.8" />
<line x1="1632.30" y1="223.00" x2="1632.30" y2="246.80" stroke="#2f7a45" stroke-width="0.8" />
<line x1="1640.70" y1="223.00" x2="1640.70" y2="246.80" stroke="#2f7a45" stroke-width="0.8" />
<line x1="1649.10" y1="223.00" x2="1649.10" y2="246.80" stroke="#2f7a45" stroke-width="0.8" />
<line x1="1657.50" y1="223.00" x2="1657.50" y2="246.80" stroke="#2f7a45" stroke-width="0.8" />
<line x1="1665.90" y1="223.00" x2="1665.90" y2="246.80" stroke="#2f7a45" stroke-width="0.8" />
<line x1="1674.30" y1="223.00" x2="1674.30" y2="246.80" stroke="#2f7a45" stroke-width="0.8" />
</g>
<g transform="translate(1656.6 327.4)" stroke="#666" stroke-width="1">
<rect x="18.8" y="-8.1" width="6.9" height="16.3" fill="#fff"/>
<rect x="20.4" y="-5.6" width="3.2" height="11.2" fill="#e4e4e4" stroke-width="0.8"/>
<circle r="20" fill="#d0d0d0"/>
<circle r="6.6" fill="#ddd"/><circle r="4.4" fill="#fff"/>
<circle cy="-12.2" r="0.9" fill="#666" stroke="none"/><circle cy="12.2" r="0.9" fill="#666" stroke="none"/>
</g>
<g transform="translate(1656.6 426.4)" stroke="#666" stroke-width="1">
<rect x="18.8" y="-8.1" width="6.9" height="16.3" fill="#fff"/>
<rect x="20.4" y="-5.6" width="3.2" height="11.2" fill="#e4e4e4" stroke-width="0.8"/>
<circle r="20" fill="#d0d0d0"/>
<circle r="6.6" fill="#ddd"/><circle r="4.4" fill="#fff"/>
<circle cy="-12.2" r="0.9" fill="#666" stroke="none"/><circle cy="12.2" r="0.9" fill="#666" stroke="none"/>
</g>
<g id="sofa" stroke="#6e302c" stroke-width="0.9" fill="url(#gr)">
<rect x="922.6" y="709.4" width="13.4" height="105.6"/>
<rect x="936.0" y="709.4" width="7.6" height="105.6"/>
<rect x="943.6" y="710.0" width="46.2" height="52.2" rx="2.4"/>
<rect x="943.6" y="762.2" width="46.2" height="52.4" rx="2.4"/>
<rect x="921.8" y="698.1" width="68.0" height="12.2" rx="2"/>
<rect x="921.8" y="814.4" width="68.0" height="12.3" rx="2"/>
<line x1="922.6" y1="762.2" x2="943.6" y2="762.2"/>
</g>
<rect x="928.00" y="832.60" width="47.00" height="79.20" fill="#989898" stroke="#858585" stroke-width="0.8" />
<g id="porch" fill="none" stroke="#555" stroke-width="1">
<path d="M914.5 936.0 V1059.4 H1113.9 V936.0"/>
<path d="M921.8 936.0 V1052.0 H1106.6 V936.0"/>
</g>
<g id="walls-edge" fill="#585858">
<rect x="338.15" y="221.00" width="7.70" height="321.60" fill="#585858" />
<rect x="338.15" y="607.40" width="7.70" height="322.60" fill="#585858" />
<rect x="722.15" y="221.00" width="7.70" height="321.60" fill="#585858" />
<rect x="722.15" y="607.40" width="7.70" height="322.60" fill="#585858" />
<rect x="914.15" y="221.00" width="7.70" height="298.40" fill="#585858" />
<rect x="914.15" y="632.00" width="7.70" height="298.00" fill="#585858" />
<rect x="1106.15" y="632.00" width="7.70" height="298.00" fill="#585858" />
<rect x="1298.15" y="221.00" width="7.70" height="298.40" fill="#585858" />
<rect x="1490.15" y="221.00" width="7.70" height="298.40" fill="#585858" />
<rect x="1490.15" y="632.00" width="7.70" height="298.00" fill="#585858" />
<rect x="1682.15" y="221.00" width="7.70" height="298.40" fill="#585858" />
<rect x="1682.15" y="632.00" width="7.70" height="298.00" fill="#585858" />
<rect x="728.00" y="511.80" width="103.00" height="7.60" fill="#585858" />
<rect x="893.00" y="511.80" width="43.00" height="7.60" fill="#585858" />
<rect x="999.20" y="511.80" width="321.60" height="7.60" fill="#585858" />
<rect x="1384.00" y="511.80" width="128.80" height="7.60" fill="#585858" />
<rect x="1577.00" y="511.80" width="130.00" height="7.60" fill="#585858" />
<rect x="1770.40" y="511.80" width="102.20" height="7.60" fill="#585858" />
<rect x="728.00" y="632.00" width="105.00" height="7.60" fill="#585858" />
<rect x="896.30" y="632.00" width="87.10" height="7.60" fill="#585858" />
<rect x="1046.30" y="632.00" width="79.30" height="7.60" fill="#585858" />
<rect x="1189.60" y="632.00" width="420.40" height="7.60" fill="#585858" />
<rect x="1673.50" y="632.00" width="115.50" height="7.60" fill="#585858" />
<rect x="1852.20" y="632.00" width="20.40" height="7.60" fill="#585858" />
<rect x="343.60" y="294.30" width="82.20" height="5.50" fill="#585858" />
<rect x="642.20" y="294.30" width="82.10" height="5.50" fill="#585858" />
<rect x="343.60" y="371.10" width="82.20" height="5.50" fill="#585858" />
<rect x="642.20" y="371.10" width="82.10" height="5.50" fill="#585858" />
<rect x="343.60" y="447.90" width="82.20" height="5.50" fill="#585858" />
<rect x="642.20" y="447.90" width="82.10" height="5.50" fill="#585858" />
<rect x="343.60" y="524.70" width="82.20" height="5.50" fill="#585858" />
<rect x="642.20" y="524.70" width="82.10" height="5.50" fill="#585858" />
<rect x="343.60" y="621.10" width="82.20" height="5.50" fill="#585858" />
<rect x="642.20" y="621.10" width="82.10" height="5.50" fill="#585858" />
<rect x="343.60" y="697.90" width="82.20" height="5.50" fill="#585858" />
<rect x="642.20" y="697.90" width="82.10" height="5.50" fill="#585858" />
<rect x="343.60" y="774.30" width="82.20" height="5.50" fill="#585858" />
<rect x="642.20" y="774.30" width="82.10" height="5.50" fill="#585858" />
<rect x="343.60" y="851.10" width="82.20" height="5.50" fill="#585858" />
<rect x="642.20" y="851.10" width="82.10" height="5.50" fill="#585858" />
<rect x="728.00" y="294.30" width="85.60" height="5.50" fill="#585858" />
<rect x="728.00" y="371.10" width="85.60" height="5.50" fill="#585858" />
<rect x="728.00" y="774.30" width="85.60" height="5.50" fill="#585858" />
<rect x="728.00" y="851.10" width="85.60" height="5.50" fill="#585858" />
<rect x="808.30" y="221.00" width="5.30" height="10.00" fill="#585858" />
<rect x="808.30" y="287.40" width="5.30" height="22.40" fill="#585858" />
<rect x="808.30" y="364.80" width="5.30" height="11.80" fill="#585858" />
<rect x="808.30" y="774.30" width="5.30" height="12.70" fill="#585858" />
<rect x="808.30" y="840.30" width="5.30" height="27.30" fill="#585858" />
<rect x="808.30" y="918.80" width="5.30" height="11.20" fill="#585858" />
<path d="M149.8 215.0 H1878.4 V545.6 H1870.6 V223.0 H158.0 V928.0 H1870.6 V609.2 H1878.4 V936.0 H149.8 Z"/>
</g>
<g id="walls-fill" fill="#9a9a9a">
<rect x="339.10" y="221.95" width="5.80" height="319.70" fill="#9a9a9a" />
<rect x="339.10" y="608.35" width="5.80" height="320.70" fill="#9a9a9a" />
<rect x="723.10" y="221.95" width="5.80" height="319.70" fill="#9a9a9a" />
<rect x="723.10" y="608.35" width="5.80" height="320.70" fill="#9a9a9a" />
<rect x="915.10" y="221.95" width="5.80" height="296.50" fill="#9a9a9a" />
<rect x="915.10" y="632.95" width="5.80" height="296.10" fill="#9a9a9a" />
<rect x="1107.10" y="632.95" width="5.80" height="296.10" fill="#9a9a9a" />
<rect x="1299.10" y="221.95" width="5.80" height="296.50" fill="#9a9a9a" />
<rect x="1491.10" y="221.95" width="5.80" height="296.50" fill="#9a9a9a" />
<rect x="1491.10" y="632.95" width="5.80" height="296.10" fill="#9a9a9a" />
<rect x="1683.10" y="221.95" width="5.80" height="296.50" fill="#9a9a9a" />
<rect x="1683.10" y="632.95" width="5.80" height="296.10" fill="#9a9a9a" />
<rect x="728.95" y="512.75" width="101.10" height="5.70" fill="#9a9a9a" />
<rect x="893.95" y="512.75" width="41.10" height="5.70" fill="#9a9a9a" />
<rect x="1000.15" y="512.75" width="319.70" height="5.70" fill="#9a9a9a" />
<rect x="1384.95" y="512.75" width="126.90" height="5.70" fill="#9a9a9a" />
<rect x="1577.95" y="512.75" width="128.10" height="5.70" fill="#9a9a9a" />
<rect x="1771.35" y="512.75" width="100.30" height="5.70" fill="#9a9a9a" />
<rect x="728.95" y="632.95" width="103.10" height="5.70" fill="#9a9a9a" />
<rect x="897.25" y="632.95" width="85.20" height="5.70" fill="#9a9a9a" />
<rect x="1047.25" y="632.95" width="77.40" height="5.70" fill="#9a9a9a" />
<rect x="1190.55" y="632.95" width="418.50" height="5.70" fill="#9a9a9a" />
<rect x="1674.45" y="632.95" width="113.60" height="5.70" fill="#9a9a9a" />
<rect x="1853.15" y="632.95" width="18.50" height="5.70" fill="#9a9a9a" />
<rect x="344.55" y="295.25" width="80.30" height="3.60" fill="#9a9a9a" />
<rect x="643.15" y="295.25" width="80.20" height="3.60" fill="#9a9a9a" />
<rect x="344.55" y="372.05" width="80.30" height="3.60" fill="#9a9a9a" />
<rect x="643.15" y="372.05" width="80.20" height="3.60" fill="#9a9a9a" />
<rect x="344.55" y="448.85" width="80.30" height="3.60" fill="#9a9a9a" />
<rect x="643.15" y="448.85" width="80.20" height="3.60" fill="#9a9a9a" />
<rect x="344.55" y="525.65" width="80.30" height="3.60" fill="#9a9a9a" />
<rect x="643.15" y="525.65" width="80.20" height="3.60" fill="#9a9a9a" />
<rect x="344.55" y="622.05" width="80.30" height="3.60" fill="#9a9a9a" />
<rect x="643.15" y="622.05" width="80.20" height="3.60" fill="#9a9a9a" />
<rect x="344.55" y="698.85" width="80.30" height="3.60" fill="#9a9a9a" />
<rect x="643.15" y="698.85" width="80.20" height="3.60" fill="#9a9a9a" />
<rect x="344.55" y="775.25" width="80.30" height="3.60" fill="#9a9a9a" />
<rect x="643.15" y="775.25" width="80.20" height="3.60" fill="#9a9a9a" />
<rect x="344.55" y="852.05" width="80.30" height="3.60" fill="#9a9a9a" />
<rect x="643.15" y="852.05" width="80.20" height="3.60" fill="#9a9a9a" />
<rect x="728.95" y="295.25" width="83.70" height="3.60" fill="#9a9a9a" />
<rect x="728.95" y="372.05" width="83.70" height="3.60" fill="#9a9a9a" />
<rect x="728.95" y="775.25" width="83.70" height="3.60" fill="#9a9a9a" />
<rect x="728.95" y="852.05" width="83.70" height="3.60" fill="#9a9a9a" />
<rect x="809.25" y="221.95" width="3.40" height="8.10" fill="#9a9a9a" />
<rect x="809.25" y="288.35" width="3.40" height="20.50" fill="#9a9a9a" />
<rect x="809.25" y="365.75" width="3.40" height="9.90" fill="#9a9a9a" />
<rect x="809.25" y="775.25" width="3.40" height="10.80" fill="#9a9a9a" />
<rect x="809.25" y="841.25" width="3.40" height="25.40" fill="#9a9a9a" />
<rect x="809.25" y="919.75" width="3.40" height="9.30" fill="#9a9a9a" />
<path d="M150.75 215.95 H1877.45 V544.65 H1871.55 V222.05 H157.05 V928.95 H1871.55 V610.1500000000001 H1877.45 V935.05 H150.75 Z"/>
</g>
<g id="wall-axes" stroke="#000" stroke-opacity="0.16" stroke-width="1.2">
<line x1="342" y1="225.3" x2="342" y2="248.0"/>
<line x1="342" y1="270.5" x2="342" y2="293.2"/>
<line x1="342" y1="315.6" x2="342" y2="338.3"/>
<line x1="342" y1="360.8" x2="342" y2="383.5"/>
<line x1="342" y1="406.0" x2="342" y2="428.7"/>
<line x1="342" y1="451.2" x2="342" y2="473.9"/>
<line x1="342" y1="496.3" x2="342" y2="519.0"/>
<line x1="342" y1="608.0" x2="342" y2="609.4"/>
<line x1="342" y1="631.8" x2="342" y2="654.5"/>
<line x1="342" y1="677.0" x2="342" y2="699.7"/>
<line x1="342" y1="722.2" x2="342" y2="744.9"/>
<line x1="342" y1="767.3" x2="342" y2="790.0"/>
<line x1="342" y1="812.5" x2="342" y2="835.2"/>
<line x1="342" y1="857.7" x2="342" y2="880.4"/>
<line x1="342" y1="902.9" x2="342" y2="925.6"/>
<line x1="726" y1="225.3" x2="726" y2="248.0"/>
<line x1="726" y1="270.5" x2="726" y2="293.2"/>
<line x1="726" y1="315.6" x2="726" y2="338.3"/>
<line x1="726" y1="360.8" x2="726" y2="383.5"/>
<line x1="726" y1="406.0" x2="726" y2="428.7"/>
<line x1="726" y1="451.2" x2="726" y2="473.9"/>
<line x1="726" y1="496.3" x2="726" y2="519.0"/>
<line x1="726" y1="608.0" x2="726" y2="609.4"/>
<line x1="726" y1="631.8" x2="726" y2="654.5"/>
<line x1="726" y1="677.0" x2="726" y2="699.7"/>
<line x1="726" y1="722.2" x2="726" y2="744.9"/>
<line x1="726" y1="767.3" x2="726" y2="790.0"/>
<line x1="726" y1="812.5" x2="726" y2="835.2"/>
<line x1="726" y1="857.7" x2="726" y2="880.4"/>
<line x1="726" y1="902.9" x2="726" y2="925.6"/>
<line x1="918" y1="225.3" x2="918" y2="248.0"/>
<line x1="918" y1="270.5" x2="918" y2="293.2"/>
<line x1="918" y1="315.6" x2="918" y2="338.3"/>
<line x1="918" y1="360.8" x2="918" y2="383.5"/>
<line x1="918" y1="406.0" x2="918" y2="428.7"/>
<line x1="918" y1="451.2" x2="918" y2="473.9"/>
<line x1="918" y1="496.3" x2="918" y2="511.8"/>
<line x1="918" y1="639.6" x2="918" y2="654.5"/>
<line x1="918" y1="677.0" x2="918" y2="699.7"/>
<line x1="918" y1="722.2" x2="918" y2="744.9"/>
<line x1="918" y1="767.3" x2="918" y2="790.0"/>
<line x1="918" y1="812.5" x2="918" y2="835.2"/>
<line x1="918" y1="857.7" x2="918" y2="880.4"/>
<line x1="918" y1="902.9" x2="918" y2="925.6"/>
<line x1="1110" y1="639.6" x2="1110" y2="654.5"/>
<line x1="1110" y1="677.0" x2="1110" y2="699.7"/>
<line x1="1110" y1="722.2" x2="1110" y2="744.9"/>
<line x1="1110" y1="767.3" x2="1110" y2="790.0"/>
<line x1="1110" y1="812.5" x2="1110" y2="835.2"/>
<line x1="1110" y1="857.7" x2="1110" y2="880.4"/>
<line x1="1110" y1="902.9" x2="1110" y2="925.6"/>
<line x1="1302" y1="225.3" x2="1302" y2="248.0"/>
<line x1="1302" y1="270.5" x2="1302" y2="293.2"/>
<line x1="1302" y1="315.6" x2="1302" y2="338.3"/>
<line x1="1302" y1="360.8" x2="1302" y2="383.5"/>
<line x1="1302" y1="406.0" x2="1302" y2="428.7"/>
<line x1="1302" y1="451.2" x2="1302" y2="473.9"/>
<line x1="1302" y1="496.3" x2="1302" y2="511.8"/>
<line x1="1494" y1="225.3" x2="1494" y2="248.0"/>
<line x1="1494" y1="270.5" x2="1494" y2="293.2"/>
<line x1="1494" y1="315.6" x2="1494" y2="338.3"/>
<line x1="1494" y1="360.8" x2="1494" y2="383.5"/>
<line x1="1494" y1="406.0" x2="1494" y2="428.7"/>
<line x1="1494" y1="451.2" x2="1494" y2="473.9"/>
<line x1="1494" y1="496.3" x2="1494" y2="511.8"/>
<line x1="1494" y1="639.6" x2="1494" y2="654.5"/>
<line x1="1494" y1="677.0" x2="1494" y2="699.7"/>
<line x1="1494" y1="722.2" x2="1494" y2="744.9"/>
<line x1="1494" y1="767.3" x2="1494" y2="790.0"/>
<line x1="1494" y1="812.5" x2="1494" y2="835.2"/>
<line x1="1494" y1="857.7" x2="1494" y2="880.4"/>
<line x1="1494" y1="902.9" x2="1494" y2="925.6"/>
<line x1="1686" y1="225.3" x2="1686" y2="248.0"/>
<line x1="1686" y1="270.5" x2="1686" y2="293.2"/>
<line x1="1686" y1="315.6" x2="1686" y2="338.3"/>
<line x1="1686" y1="360.8" x2="1686" y2="383.5"/>
<line x1="1686" y1="406.0" x2="1686" y2="428.7"/>
<line x1="1686" y1="451.2" x2="1686" y2="473.9"/>
<line x1="1686" y1="496.3" x2="1686" y2="511.8"/>
<line x1="1686" y1="639.6" x2="1686" y2="654.5"/>
<line x1="1686" y1="677.0" x2="1686" y2="699.7"/>
<line x1="1686" y1="722.2" x2="1686" y2="744.9"/>
<line x1="1686" y1="767.3" x2="1686" y2="790.0"/>
<line x1="1686" y1="812.5" x2="1686" y2="835.2"/>
<line x1="1686" y1="857.7" x2="1686" y2="880.4"/>
<line x1="1686" y1="902.9" x2="1686" y2="925.6"/>
</g>
<g id="tints">
<rect x="915.00" y="223.00" width="5.80" height="217.00" fill="rgba(205,120,70,0.20)" />
<rect x="921.70" y="215.90" width="30.30" height="6.20" fill="rgba(205,120,70,0.20)" />
<rect x="1269.00" y="215.90" width="30.00" height="6.20" fill="rgba(205,120,70,0.20)" />
<rect x="1299.70" y="215.00" width="5.30" height="225.00" fill="rgba(200,110,130,0.18)" />
<rect x="1491.20" y="215.00" width="5.60" height="225.00" fill="rgba(170,90,200,0.14)" />
<rect x="1683.30" y="215.00" width="5.60" height="225.00" fill="rgba(170,90,200,0.14)" />
<rect x="1871.50" y="255.00" width="6.00" height="185.00" fill="rgba(170,90,200,0.14)" />
<rect x="1497.70" y="215.90" width="184.70" height="6.20" fill="rgba(170,90,200,0.14)" />
<rect x="915.00" y="690.00" width="5.80" height="145.00" fill="rgba(0,150,175,0.20)" />
<rect x="1107.20" y="680.00" width="5.50" height="230.00" fill="rgba(205,120,70,0.20)" />
<rect x="1491.20" y="680.00" width="5.60" height="230.00" fill="rgba(205,120,70,0.20)" />
<rect x="1683.30" y="680.00" width="5.60" height="230.00" fill="rgba(215,110,50,0.28)" />
<rect x="1871.50" y="680.00" width="6.00" height="225.00" fill="rgba(80,120,200,0.14)" />
</g>
<g id="openings">
<rect x="453.50" y="215.00" width="48.20" height="8.00" fill="#fff" stroke="#6a6a6a" stroke-width="0.8" />
<line x1="453.50" y1="219.30" x2="501.70" y2="219.30" stroke="#606060" stroke-width="0.8" />
<line x1="459.70" y1="215.00" x2="459.70" y2="219.30" stroke="#666" stroke-width="0.9" />
<line x1="495.50" y1="215.00" x2="495.50" y2="219.30" stroke="#666" stroke-width="0.9" />
<line x1="453.50" y1="214.70" x2="453.50" y2="223.60" stroke="#444" stroke-width="1.1" />
<line x1="501.70" y1="214.70" x2="501.70" y2="223.60" stroke="#444" stroke-width="1.1" />
<rect x="563.80" y="215.00" width="47.70" height="8.00" fill="#fff" stroke="#6a6a6a" stroke-width="0.8" />
<line x1="563.80" y1="219.30" x2="611.50" y2="219.30" stroke="#606060" stroke-width="0.8" />
<line x1="570.00" y1="215.00" x2="570.00" y2="219.30" stroke="#666" stroke-width="0.9" />
<line x1="605.30" y1="215.00" x2="605.30" y2="219.30" stroke="#666" stroke-width="0.9" />
<line x1="563.80" y1="214.70" x2="563.80" y2="223.60" stroke="#444" stroke-width="1.1" />
<line x1="611.50" y1="214.70" x2="611.50" y2="223.60" stroke="#444" stroke-width="1.1" />
<rect x="839.70" y="215.00" width="47.70" height="8.00" fill="#fff" stroke="#6a6a6a" stroke-width="0.8" />
<line x1="839.70" y1="219.30" x2="887.40" y2="219.30" stroke="#606060" stroke-width="0.8" />
<line x1="845.90" y1="215.00" x2="845.90" y2="219.30" stroke="#666" stroke-width="0.9" />
<line x1="881.20" y1="215.00" x2="881.20" y2="219.30" stroke="#666" stroke-width="0.9" />
<line x1="839.70" y1="214.70" x2="839.70" y2="223.60" stroke="#444" stroke-width="1.1" />
<line x1="887.40" y1="214.70" x2="887.40" y2="223.60" stroke="#444" stroke-width="1.1" />
<rect x="1031.00" y="215.00" width="47.60" height="8.00" fill="#fff" stroke="#6a6a6a" stroke-width="0.8" />
<line x1="1031.00" y1="219.30" x2="1078.60" y2="219.30" stroke="#606060" stroke-width="0.8" />
<line x1="1037.20" y1="215.00" x2="1037.20" y2="219.30" stroke="#666" stroke-width="0.9" />
<line x1="1072.40" y1="215.00" x2="1072.40" y2="219.30" stroke="#666" stroke-width="0.9" />
<line x1="1031.00" y1="214.70" x2="1031.00" y2="223.60" stroke="#444" stroke-width="1.1" />
<line x1="1078.60" y1="214.70" x2="1078.60" y2="223.60" stroke="#444" stroke-width="1.1" />
<rect x="1134.70" y="215.00" width="47.80" height="8.00" fill="#fff" stroke="#6a6a6a" stroke-width="0.8" />
<line x1="1134.70" y1="219.30" x2="1182.50" y2="219.30" stroke="#606060" stroke-width="0.8" />
<line x1="1140.90" y1="215.00" x2="1140.90" y2="219.30" stroke="#666" stroke-width="0.9" />
<line x1="1176.30" y1="215.00" x2="1176.30" y2="219.30" stroke="#666" stroke-width="0.9" />
<line x1="1134.70" y1="214.70" x2="1134.70" y2="223.60" stroke="#444" stroke-width="1.1" />
<line x1="1182.50" y1="214.70" x2="1182.50" y2="223.60" stroke="#444" stroke-width="1.1" />
<rect x="1362.30" y="215.00" width="72.00" height="8.00" fill="#fff" stroke="#6a6a6a" stroke-width="0.8" />
<line x1="1362.30" y1="219.30" x2="1434.30" y2="219.30" stroke="#606060" stroke-width="0.8" />
<line x1="1368.50" y1="215.00" x2="1368.50" y2="219.30" stroke="#666" stroke-width="0.9" />
<line x1="1428.10" y1="215.00" x2="1428.10" y2="219.30" stroke="#666" stroke-width="0.9" />
<line x1="1362.30" y1="214.70" x2="1362.30" y2="223.60" stroke="#444" stroke-width="1.1" />
<line x1="1434.30" y1="214.70" x2="1434.30" y2="223.60" stroke="#444" stroke-width="1.1" />
<rect x="1554.50" y="215.00" width="72.00" height="8.00" fill="#fff" stroke="#6a6a6a" stroke-width="0.8" />
<line x1="1554.50" y1="219.30" x2="1626.50" y2="219.30" stroke="#606060" stroke-width="0.8" />
<line x1="1560.70" y1="215.00" x2="1560.70" y2="219.30" stroke="#666" stroke-width="0.9" />
<line x1="1620.30" y1="215.00" x2="1620.30" y2="219.30" stroke="#666" stroke-width="0.9" />
<line x1="1554.50" y1="214.70" x2="1554.50" y2="223.60" stroke="#444" stroke-width="1.1" />
<line x1="1626.50" y1="214.70" x2="1626.50" y2="223.60" stroke="#444" stroke-width="1.1" />
<rect x="1745.00" y="215.00" width="71.50" height="8.00" fill="#fff" stroke="#6a6a6a" stroke-width="0.8" />
<line x1="1745.00" y1="219.30" x2="1816.50" y2="219.30" stroke="#606060" stroke-width="0.8" />
<line x1="1751.20" y1="215.00" x2="1751.20" y2="219.30" stroke="#666" stroke-width="0.9" />
<line x1="1810.30" y1="215.00" x2="1810.30" y2="219.30" stroke="#666" stroke-width="0.9" />
<line x1="1745.00" y1="214.70" x2="1745.00" y2="223.60" stroke="#444" stroke-width="1.1" />
<line x1="1816.50" y1="214.70" x2="1816.50" y2="223.60" stroke="#444" stroke-width="1.1" />
<rect x="455.50" y="928.00" width="48.00" height="8.00" fill="#fff" stroke="#6a6a6a" stroke-width="0.8" />
<line x1="455.50" y1="931.50" x2="503.50" y2="931.50" stroke="#606060" stroke-width="0.8" />
<line x1="461.70" y1="931.50" x2="461.70" y2="936.00" stroke="#666" stroke-width="0.9" />
<line x1="497.30" y1="931.50" x2="497.30" y2="936.00" stroke="#666" stroke-width="0.9" />
<line x1="455.50" y1="927.40" x2="455.50" y2="936.30" stroke="#444" stroke-width="1.1" />
<line x1="503.50" y1="927.40" x2="503.50" y2="936.30" stroke="#444" stroke-width="1.1" />
<rect x="570.00" y="928.00" width="49.00" height="8.00" fill="#fff" stroke="#6a6a6a" stroke-width="0.8" />
<line x1="570.00" y1="931.50" x2="619.00" y2="931.50" stroke="#606060" stroke-width="0.8" />
<line x1="576.20" y1="931.50" x2="576.20" y2="936.00" stroke="#666" stroke-width="0.9" />
<line x1="612.80" y1="931.50" x2="612.80" y2="936.00" stroke="#666" stroke-width="0.9" />
<line x1="570.00" y1="927.40" x2="570.00" y2="936.30" stroke="#444" stroke-width="1.1" />
<line x1="619.00" y1="927.40" x2="619.00" y2="936.30" stroke="#444" stroke-width="1.1" />
<rect x="844.00" y="928.00" width="48.00" height="8.00" fill="#fff" stroke="#6a6a6a" stroke-width="0.8" />
<line x1="844.00" y1="931.50" x2="892.00" y2="931.50" stroke="#606060" stroke-width="0.8" />
<line x1="850.20" y1="931.50" x2="850.20" y2="936.00" stroke="#666" stroke-width="0.9" />
<line x1="885.80" y1="931.50" x2="885.80" y2="936.00" stroke="#666" stroke-width="0.9" />
<line x1="844.00" y1="927.40" x2="844.00" y2="936.30" stroke="#444" stroke-width="1.1" />
<line x1="892.00" y1="927.40" x2="892.00" y2="936.30" stroke="#444" stroke-width="1.1" />
<rect x="1224.00" y="928.00" width="47.30" height="8.00" fill="#fff" stroke="#6a6a6a" stroke-width="0.8" />
<line x1="1224.00" y1="931.50" x2="1271.30" y2="931.50" stroke="#606060" stroke-width="0.8" />
<line x1="1230.20" y1="931.50" x2="1230.20" y2="936.00" stroke="#666" stroke-width="0.9" />
<line x1="1265.10" y1="931.50" x2="1265.10" y2="936.00" stroke="#666" stroke-width="0.9" />
<line x1="1224.00" y1="927.40" x2="1224.00" y2="936.30" stroke="#444" stroke-width="1.1" />
<line x1="1271.30" y1="927.40" x2="1271.30" y2="936.30" stroke="#444" stroke-width="1.1" />
<rect x="1331.00" y="928.00" width="47.30" height="8.00" fill="#fff" stroke="#6a6a6a" stroke-width="0.8" />
<line x1="1331.00" y1="931.50" x2="1378.30" y2="931.50" stroke="#606060" stroke-width="0.8" />
<line x1="1337.20" y1="931.50" x2="1337.20" y2="936.00" stroke="#666" stroke-width="0.9" />
<line x1="1372.10" y1="931.50" x2="1372.10" y2="936.00" stroke="#666" stroke-width="0.9" />
<line x1="1331.00" y1="927.40" x2="1331.00" y2="936.30" stroke="#444" stroke-width="1.1" />
<line x1="1378.30" y1="927.40" x2="1378.30" y2="936.30" stroke="#444" stroke-width="1.1" />
<rect x="1551.70" y="928.00" width="71.30" height="8.00" fill="#fff" stroke="#6a6a6a" stroke-width="0.8" />
<line x1="1551.70" y1="931.50" x2="1623.00" y2="931.50" stroke="#606060" stroke-width="0.8" />
<line x1="1557.90" y1="931.50" x2="1557.90" y2="936.00" stroke="#666" stroke-width="0.9" />
<line x1="1616.80" y1="931.50" x2="1616.80" y2="936.00" stroke="#666" stroke-width="0.9" />
<line x1="1551.70" y1="927.40" x2="1551.70" y2="936.30" stroke="#444" stroke-width="1.1" />
<line x1="1623.00" y1="927.40" x2="1623.00" y2="936.30" stroke="#444" stroke-width="1.1" />
<rect x="1747.00" y="928.00" width="71.40" height="8.00" fill="#fff" stroke="#6a6a6a" stroke-width="0.8" />
<line x1="1747.00" y1="931.50" x2="1818.40" y2="931.50" stroke="#606060" stroke-width="0.8" />
<line x1="1753.20" y1="931.50" x2="1753.20" y2="936.00" stroke="#666" stroke-width="0.9" />
<line x1="1812.20" y1="931.50" x2="1812.20" y2="936.00" stroke="#666" stroke-width="0.9" />
<line x1="1747.00" y1="927.40" x2="1747.00" y2="936.30" stroke="#444" stroke-width="1.1" />
<line x1="1818.40" y1="927.40" x2="1818.40" y2="936.30" stroke="#444" stroke-width="1.1" />
<rect x="982.90" y="926.80" width="63.40" height="10.40" fill="#fff" />
<line x1="982.90" y1="928.00" x2="982.90" y2="936.00" stroke="#555" stroke-width="1" />
<line x1="1046.30" y1="928.00" x2="1046.30" y2="936.00" stroke="#555" stroke-width="1" />
<rect x="982.90" y="928.00" width="2.80" height="8.00" fill="#fff" stroke="#666" stroke-width="0.8" />
<rect x="1043.50" y="928.00" width="2.80" height="8.00" fill="#fff" stroke="#666" stroke-width="0.8" />
<path d="M985.60 936.00 L1033.60 966.80 A57.03 57.03 0 0 0 1043.40 936.00" fill="none" stroke="#555" stroke-width="1"/>
<rect x="829.90" y="511.80" width="2.90" height="7.60" fill="#fff" stroke="#666" stroke-width="0.8" />
<rect x="890.40" y="511.80" width="2.90" height="7.60" fill="#fff" stroke="#666" stroke-width="0.8" />
<path d="M832.80 519.40 L881.30 550.40 A57.56 57.56 0 0 0 890.40 519.40" fill="none" stroke="#555" stroke-width="1"/>
<rect x="935.40" y="511.80" width="2.90" height="7.60" fill="#fff" stroke="#666" stroke-width="0.8" />
<rect x="995.90" y="511.80" width="2.90" height="7.60" fill="#fff" stroke="#666" stroke-width="0.8" />
<path d="M938.30 519.40 L986.80 550.40 A57.56 57.56 0 0 0 995.90 519.40" fill="none" stroke="#555" stroke-width="1"/>
<rect x="1320.70" y="511.80" width="2.90" height="7.60" fill="#fff" stroke="#666" stroke-width="0.8" />
<rect x="1381.20" y="511.80" width="2.90" height="7.60" fill="#fff" stroke="#666" stroke-width="0.8" />
<path d="M1323.60 519.40 L1372.10 550.40 A57.56 57.56 0 0 0 1381.20 519.40" fill="none" stroke="#555" stroke-width="1"/>
<rect x="1512.70" y="511.80" width="2.90" height="7.60" fill="#fff" stroke="#666" stroke-width="0.8" />
<rect x="1573.20" y="511.80" width="2.90" height="7.60" fill="#fff" stroke="#666" stroke-width="0.8" />
<path d="M1515.60 519.40 L1564.10 550.40 A57.56 57.56 0 0 0 1573.20 519.40" fill="none" stroke="#555" stroke-width="1"/>
<rect x="1706.90" y="511.80" width="2.90" height="7.60" fill="#fff" stroke="#666" stroke-width="0.8" />
<rect x="1767.40" y="511.80" width="2.90" height="7.60" fill="#fff" stroke="#666" stroke-width="0.8" />
<path d="M1709.80 519.40 L1758.30 550.40 A57.56 57.56 0 0 0 1767.40 519.40" fill="none" stroke="#555" stroke-width="1"/>
<rect x="832.50" y="632.00" width="2.90" height="7.60" fill="#fff" stroke="#666" stroke-width="0.8" />
<rect x="893.40" y="632.00" width="2.90" height="7.60" fill="#fff" stroke="#666" stroke-width="0.8" />
<path d="M835.40 632.00 L883.60 600.80 A57.42 57.42 0 0 1 893.00 632.00" fill="none" stroke="#555" stroke-width="1"/>
<rect x="1125.80" y="632.00" width="2.90" height="7.60" fill="#fff" stroke="#666" stroke-width="0.8" />
<rect x="1186.70" y="632.00" width="2.90" height="7.60" fill="#fff" stroke="#666" stroke-width="0.8" />
<path d="M1128.70 632.00 L1176.90 600.80 A57.42 57.42 0 0 1 1186.30 632.00" fill="none" stroke="#555" stroke-width="1"/>
<rect x="1609.70" y="632.00" width="2.90" height="7.60" fill="#fff" stroke="#666" stroke-width="0.8" />
<rect x="1670.60" y="632.00" width="2.90" height="7.60" fill="#fff" stroke="#666" stroke-width="0.8" />
<path d="M1612.60 632.00 L1660.80 600.80 A57.42 57.42 0 0 1 1670.20 632.00" fill="none" stroke="#555" stroke-width="1"/>
<rect x="1788.70" y="632.00" width="2.90" height="7.60" fill="#fff" stroke="#666" stroke-width="0.8" />
<rect x="1849.60" y="632.00" width="2.90" height="7.60" fill="#fff" stroke="#666" stroke-width="0.8" />
<path d="M1791.60 632.00 L1839.80 600.80 A57.42 57.42 0 0 1 1849.20 632.00" fill="none" stroke="#555" stroke-width="1"/>
<rect x="982.30" y="632.00" width="2.90" height="7.60" fill="#fff" stroke="#666" stroke-width="0.8" />
<rect x="1043.40" y="632.00" width="2.90" height="7.60" fill="#fff" stroke="#666" stroke-width="0.8" />
<path d="M985.20 639.60 L1033.60 670.40 A57.37 57.37 0 0 0 1043.00 639.60" fill="none" stroke="#555" stroke-width="1"/>
<rect x="338.15" y="542.60" width="7.70" height="3.60" fill="#fff" stroke="#666" stroke-width="0.8" />
<rect x="338.15" y="604.40" width="7.70" height="3.00" fill="#fff" stroke="#666" stroke-width="0.8" />
<path d="M345.85 546.30 L377.15 594.90 A57.81 57.81 0 0 1 345.85 604.40" fill="none" stroke="#555" stroke-width="1"/>
<rect x="722.15" y="542.60" width="7.70" height="3.60" fill="#fff" stroke="#666" stroke-width="0.8" />
<rect x="722.15" y="604.40" width="7.70" height="3.00" fill="#fff" stroke="#666" stroke-width="0.8" />
<path d="M729.85 546.30 L761.15 594.90 A57.81 57.81 0 0 1 729.85 604.40" fill="none" stroke="#555" stroke-width="1"/>
<rect x="1870.60" y="545.60" width="7.80" height="3.40" fill="#fff" stroke="#666" stroke-width="0.8" />
<rect x="1870.60" y="606.60" width="7.80" height="2.60" fill="#fff" stroke="#666" stroke-width="0.8" />
<path d="M1878.40 549.00 L1909.70 596.80 A57.14 57.14 0 0 1 1878.40 606.60" fill="none" stroke="#555" stroke-width="1"/>
<rect x="808.30" y="231.00" width="5.30" height="4.40" fill="#fff" stroke="#666" stroke-width="0.8" />
<rect x="808.30" y="284.60" width="5.30" height="2.80" fill="#fff" stroke="#666" stroke-width="0.8" />
<path d="M813.60 235.60 L840.30 276.50 A48.84 48.84 0 0 1 813.60 284.60" fill="none" stroke="#555" stroke-width="1"/>
<rect x="808.30" y="309.80" width="5.30" height="4.40" fill="#fff" stroke="#666" stroke-width="0.8" />
<rect x="808.30" y="363.40" width="5.30" height="2.80" fill="#fff" stroke="#666" stroke-width="0.8" />
<path d="M813.60 314.40 L840.30 355.30 A48.84 48.84 0 0 1 813.60 363.40" fill="none" stroke="#555" stroke-width="1"/>
<rect x="808.30" y="837.50" width="5.30" height="2.80" fill="#fff" stroke="#666" stroke-width="0.8" />
<rect x="808.30" y="787.00" width="5.30" height="3.20" fill="#fff" stroke="#666" stroke-width="0.8" />
<path d="M813.60 839.40 L840.40 797.70 A49.57 49.57 0 0 0 813.60 790.10" fill="none" stroke="#555" stroke-width="1"/>
<rect x="808.30" y="916.00" width="5.30" height="2.80" fill="#fff" stroke="#666" stroke-width="0.8" />
<rect x="808.30" y="865.50" width="5.30" height="3.20" fill="#fff" stroke="#666" stroke-width="0.8" />
<path d="M813.60 917.90 L840.40 876.20 A49.57 49.57 0 0 0 813.60 868.60" fill="none" stroke="#555" stroke-width="1"/>
</g>
<g id="wmk" opacity="0.3">
<path d="M846.6 554.6 L866.6 537.2 H992 L1010.6 520.0 H1152.8 V611.8 L1135.6 635.6 H1007.4 L992 650 V554.6 Z" fill="#55b2e8"/>
<rect x="992" y="537.2" width="143.6" height="98.4" fill="#4176b2"/>
<rect x="846.6" y="554.6" width="145.4" height="97.8" fill="#e63c5a"/>
<g class="logo" fill="#fff" stroke="#fff" stroke-width="2" stroke-linejoin="miter">
<text transform="translate(887.1 628.2) scale(1.0 1)" text-anchor="middle">V</text>
<text transform="translate(936.1 628.2) scale(1.0 1)" text-anchor="middle">A</text>
<text transform="translate(991.4 622.6) skewY(-17.5) scale(0.95 1.13)" text-anchor="middle">N</text>
<text transform="translate(1048.0 610.3) scale(0.98 1)" text-anchor="middle">D</text>
<text transform="translate(1097.7 610.3) scale(1.03 1)" text-anchor="middle">A</text>
</g></g>
</svg>
</body>
</html>
